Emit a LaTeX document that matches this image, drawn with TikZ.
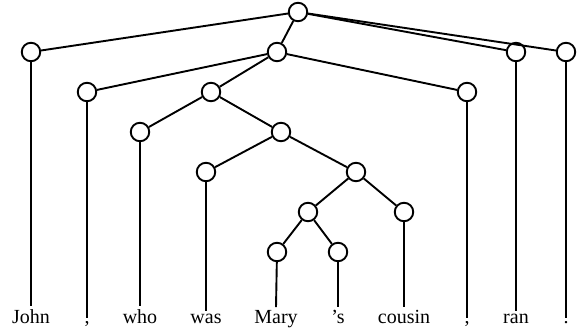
\documentclass[tikz,border=0pt]{standalone}
\usepackage{fontspec}
\setmainfont{Liberation Serif}
\begin{document}
\begin{tikzpicture}[x=1pt,y=-1pt,
  tn/.style={circle,draw,fill=white,line width=1.9pt,minimum size=18.5pt,inner sep=0pt},
  word/.style={anchor=base,inner sep=2.5pt,font=\fontsize{20}{23}\selectfont},
  edge/.style={line width=1.9pt}]
\useasboundingbox (0,0) rectangle (577,333);
% words
\node[word] (w1) at (31,323) {John};
\node[word] (w2) at (87,323) {,};
\node[word] (w3) at (140,323) {who};
\node[word] (w4) at (206,323) {was};
\node[word] (w5) at (276,323) {Mary};
\node[word] (w6) at (338,323) {'s};
\node[word] (w7) at (404,323) {cousin};
\node[word] (w8) at (467,323) {,};
\node[word] (w9) at (516,323) {ran};
\node[word] (w10) at (566,323) {.};
% tree nodes
\node[tn] (r) at (298,12) {};
\node[tn] (l1) at (31,52) {};
\node[tn] (n1) at (277,52) {};
\node[tn] (l9) at (516,52) {};
\node[tn] (l10) at (566,52) {};
\node[tn] (l2) at (87,92) {};
\node[tn] (n2) at (211,92) {};
\node[tn] (l8) at (467,92) {};
\node[tn] (l3) at (140,132) {};
\node[tn] (n3) at (281,132) {};
\node[tn] (l4) at (206,172) {};
\node[tn] (n4) at (356,172) {};
\node[tn] (n5) at (308,212) {};
\node[tn] (l7) at (404,212) {};
\node[tn] (l5) at (277,252) {};
\node[tn] (l6) at (338,252) {};
% edges
\draw[edge] (r) -- (l1);
\draw[edge] (r) -- (n1);
\draw[edge] (r) -- (l9);
\draw[edge] (r) -- (l10);
\draw[edge] (n1) -- (l2);
\draw[edge] (n1) -- (n2);
\draw[edge] (n1) -- (l8);
\draw[edge] (n2) -- (l3);
\draw[edge] (n2) -- (n3);
\draw[edge] (n3) -- (l4);
\draw[edge] (n3) -- (n4);
\draw[edge] (n4) -- (n5);
\draw[edge] (n4) -- (l7);
\draw[edge] (n5) -- (l5);
\draw[edge] (n5) -- (l6);
\foreach \i in {1,...,10} \draw[edge] (l\i) -- (w\i.north);
\end{tikzpicture}
\end{document}
